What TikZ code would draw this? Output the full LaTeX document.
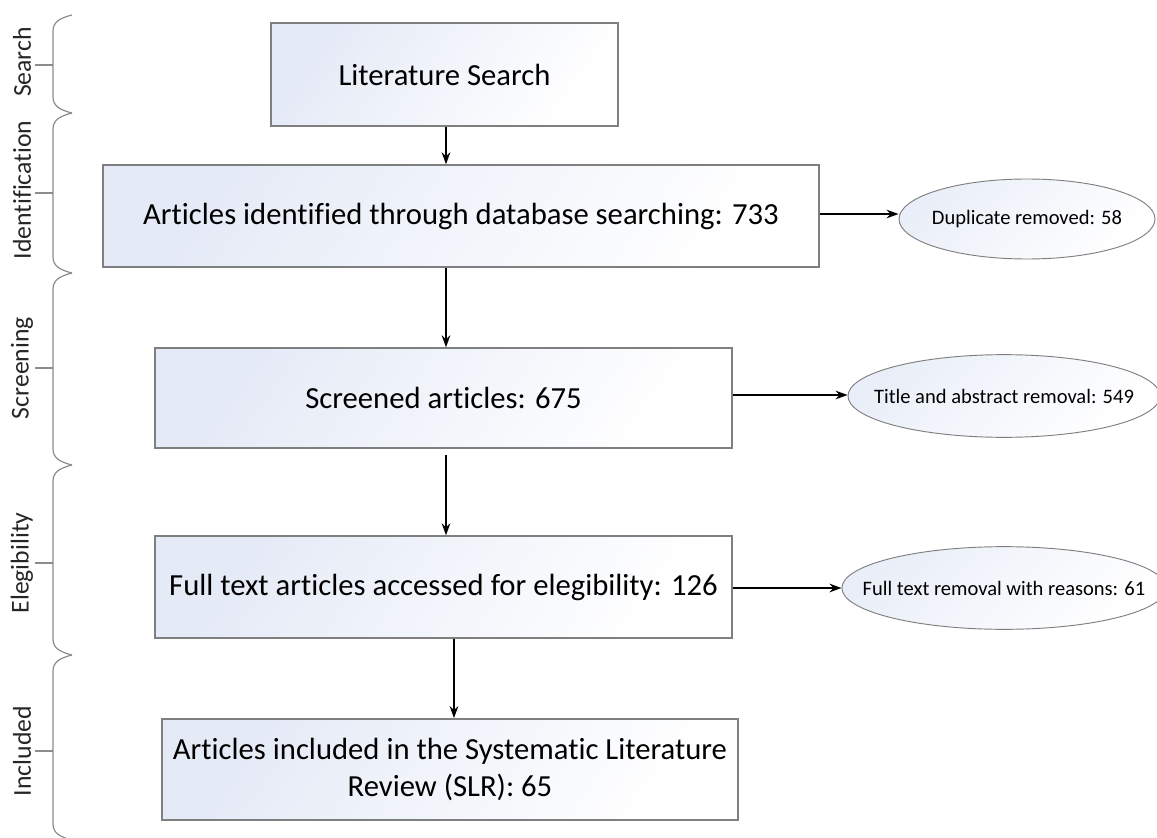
\documentclass[tikz,border=0pt]{standalone}
\usepackage{fontspec}
\setmainfont[Ligatures={NoCommon}]{Carlito}
\usetikzlibrary{shapes.geometric,arrows.meta}
\definecolor{edgegray}{HTML}{7F7F7F}
\definecolor{shadeblue}{HTML}{E4EAF6}
\tikzset{
  stagebox/.style={draw=edgegray, line width=1.1pt, shading=axis, top color=shadeblue, bottom color=white, shading angle=55, align=center, inner sep=0pt, font=\fontsize{23}{27.5}\selectfont},
  removal/.style={ellipse, draw=edgegray, line width=0.7pt, shading=axis, top color=shadeblue!80, bottom color=white, shading angle=45, inner xsep=-20pt, inner ysep=0pt, font=\fontsize{15.4}{18}\selectfont},
  arr/.style={-{Stealth[length=9pt,width=6.5pt]}, line width=1pt, black},
  bracepath/.style={draw=edgegray!90, line width=0.9pt},
  phase/.style={rotate=90, font=\fontsize{19.3}{23}\selectfont, text=black!85},
}
\begin{document}
\begin{tikzpicture}[x=0.75pt,y=-0.75pt]
\useasboundingbox (0,0) rectangle (1157,838);
% boxes
\node[stagebox, minimum width=260pt, minimum height=77pt] (b1) at (444.5,74.5) {Literature Search};
\node[stagebox, minimum width=537pt, minimum height=76.5pt] (b2) at (461,216) {Articles identified through database searching: 733};
\node[stagebox, minimum width=433pt, minimum height=75pt] (b3) at (443.5,398) {Screened articles: 675};
\node[stagebox, minimum width=433pt, minimum height=76.5pt] (b4) at (443.5,587) {Full text articles accessed for elegibility: 126};
\node[stagebox, minimum width=432pt, minimum height=76pt] (b5) at (450,769.5) {Articles included in the Systematic Literature\\Review (SLR): 65};
% ellipses
\node[removal, minimum width=192pt, minimum height=60pt] (e1) at (1027,219) {Duplicate removed: 58};
\node[removal, minimum width=234pt, minimum height=62pt] (e2) at (1004,396) {Title and abstract removal: 549};
\node[removal, minimum width=234pt, minimum height=62pt] (e3) at (1004,588) {Full text removal with reasons: 61};
% arrows
\draw[arr] (b1.south -| 446,0) -- (b2.north -| 446,0);
\draw[arr] (b2.south -| 446,0) -- (b3.north -| 446,0);
\draw[arr] ([yshift=-5pt]b3.south -| 446,0) -- (b4.north -| 446,0);
\draw[arr] (b4.south -| 454,0) -- (b5.north -| 454,0);
\draw[arr] (b2.east |- 0,214) -- (e1.west |- 0,214);
\draw[arr] (b3.east |- 0,395) -- (e2.west |- 0,395);
\draw[arr] (b4.east |- 0,588) -- (e3.west |- 0,588);
% braces
\foreach \top/\mid/\bot in {15/65/113, 113/193/273, 273/368/465, 465/563/655, 655/751/840}{
  \draw[bracepath] (72,\top) .. controls (60,\top+3) and (53,\top+7) .. (53,\top+16) -- (53,\bot-16) .. controls (53,\bot-7) and (60,\bot-3) .. (72,\bot);
  \draw[bracepath] (35,\mid) -- (53,\mid);
}
\node[phase] (p1) at (22,62) {Search};
\node[phase] (p2) at (22,190) {Identification};
\node[phase] (p3) at (22,368) {Screening};
\node[phase] (p4) at (22,563) {Elegibility};
\node[phase] (p5) at (22,751) {Included};
\end{tikzpicture}
\end{document}
